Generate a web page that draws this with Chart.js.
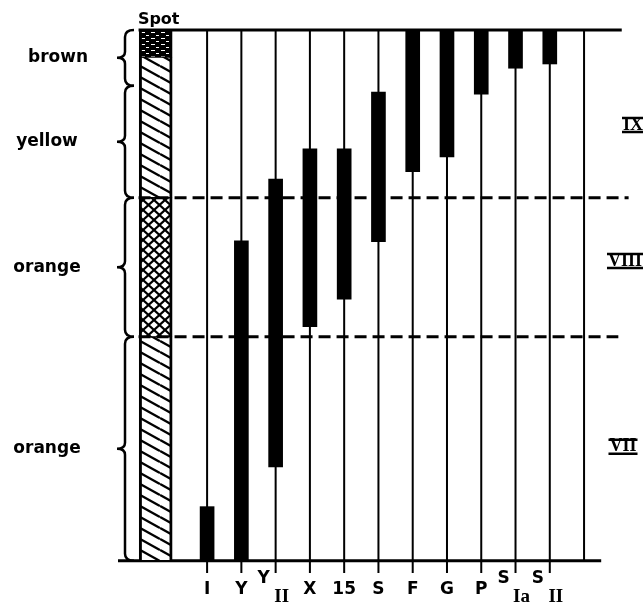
<!DOCTYPE html>
<html>
<head>
<meta charset="utf-8">
<script src="https://cdn.jsdelivr.net/npm/chart.js@4"></script>
<style>
  body { margin: 0; background: #fff; }
  #wrap { position: relative; width: 643px; height: 605px; }
</style>
</head>
<body>
<div id="wrap"><canvas id="chart"></canvas></div>
<script>
// categories along the bottom (main letter + subscript)
const labelMain = ['I', 'Y', 'Y', 'X', '15', 'S', 'F', 'G', 'P', 'S', 'S'];
const labelSub  = ['', '', 'II', '', '', '', '', '', '', 'Ia', 'II'];

// bar ranges, 0 = bottom of spot, 100 = top
const rangeLow  = [0, 0, 17.7, 44.1, 49.3, 60.1, 73.3, 76.1, 87.9, 92.8, 93.6];
const rangeHigh = [10.2, 60.3, 71.9, 77.6, 77.6, 88.3, 100, 100, 100, 100, 100];

// spot column zones (top to bottom)
const spotLow  = [94.9, 68.4, 42.2, 0];
const spotHigh = [100, 94.9, 68.4, 42.2];
const spotFill = ['brown', 'diag', 'cross', 'diag'];

// colour names on the left with their braces
const colourNames = ['brown', 'yellow', 'orange', 'orange'];
const braceLow  = [89.5, 68.4, 42.2, 0];
const braceHigh = [100, 89.5, 68.4, 42.2];

// dashed zone borders and zone numbers on the right
const zoneLines = [68.4, 42.2];
const zoneNames = ['IX', 'VIII', 'VII'];
const zoneLevel = [82.1, 56.5, 21.5];

const canvas = document.getElementById('chart');
const ctx = canvas.getContext('2d');

function makePattern(w, h, draw) {
  const c = document.createElement('canvas');
  c.width = w; c.height = h;
  const g = c.getContext('2d');
  g.fillStyle = '#fff';
  g.fillRect(0, 0, w, h);
  draw(g, w, h);
  return ctx.createPattern(c, 'repeat');
}

const patterns = {
  brown: makePattern(10, 6, (g, w, h) => {
    g.fillStyle = '#000';
    g.fillRect(0, 0, w, h);
    g.fillStyle = '#fff';
    g.fillRect(1, 2, 4, 1);
    g.fillRect(6, 5, 3, 1);
  }),
  diag: makePattern(20, 11, (g, w, h) => {
    g.strokeStyle = '#000';
    g.lineWidth = 2.4;
    for (let k = -1; k <= 1; k++) {
      g.beginPath();
      g.moveTo(0, k * h);
      g.lineTo(w, (k + 1) * h);
      g.stroke();
    }
  }),
  cross: makePattern(11, 10, (g, w, h) => {
    g.strokeStyle = '#000';
    g.lineWidth = 2.2;
    for (let k = -1; k <= 1; k++) {
      g.beginPath();
      g.moveTo(0, k * h);
      g.lineTo(w, (k + 1) * h);
      g.moveTo(0, (k + 1) * h);
      g.lineTo(w, k * h);
      g.stroke();
    }
  })
};

// x positions: spot column sits between -1 and 0, categories at 1..11
const spotX = -0.5;
const catX = labelMain.map((_, i) => i + 1);
const lastLine = labelMain.length + 1;
const tickDepth = -2.3;
const frameLeft = -1, frameRight = 13.1;
const baseLeft = -1.6, baseRight = 12.5;
const dashRight = [13.3, 13.0];

// vertical lines, split by nulls
const vLines = [];
catX.forEach(x => { vLines.push({x: x, y: tickDepth}, {x: x, y: 100}, {x: x, y: null}); });
vLines.push({x: lastLine, y: 0}, {x: lastLine, y: 100});

const dashData = [];
zoneLines.forEach((v, i) => { dashData.push({x: frameLeft, y: v}, {x: dashRight[i], y: v}, {x: dashRight[i], y: null}); });

const textPlugin = {
  id: 'figureText',
  afterDraw(chart) {
    const c = chart.ctx, xs = chart.scales.x, ys = chart.scales.y;
    c.save();
    c.fillStyle = '#000';
    c.strokeStyle = '#000';

    // braces + colour names
    c.lineWidth = 2.5;
    const bx = 125, tip = 117, hook = 134;
    colourNames.forEach((name, i) => {
      const yt = ys.getPixelForValue(braceHigh[i]);
      const yb = ys.getPixelForValue(braceLow[i]);
      const ym = (yt + yb) / 2;
      c.beginPath();
      c.moveTo(hook, yt);
      c.quadraticCurveTo(bx, yt, bx, yt + 7);
      c.lineTo(bx, ym - 6);
      c.quadraticCurveTo(bx, ym, tip, ym);
      c.quadraticCurveTo(bx, ym, bx, ym + 6);
      c.lineTo(bx, yb - 7);
      c.quadraticCurveTo(bx, yb, hook, yb);
      c.stroke();
      c.font = 'bold 17px "DejaVu Sans"';
      c.textAlign = 'center';
      c.textBaseline = 'middle';
      c.fillText(name, i === 0 ? 58 : 47, ym);
    });

    // Spot heading
    c.font = 'bold 16px "DejaVu Sans"';
    c.textAlign = 'center';
    c.textBaseline = 'alphabetic';
    c.fillText('Spot', xs.getPixelForValue(spotX) + 3, 24);

    // category labels
    labelMain.forEach((m, i) => {
      const px = xs.getPixelForValue(catX[i]);
      c.font = 'bold 17px "DejaVu Sans"';
      if (labelSub[i]) {
        c.fillText(m, px - 12, 583);
        c.font = 'bold 19px "Liberation Serif"';
        c.fillText(labelSub[i], px + 6, 602);
      } else {
        c.fillText(m, px, 594);
      }
    });

    // zone numerals on the right
    c.font = 'bold 18px "Liberation Serif"';
    c.textBaseline = 'middle';
    const zx = [633, 625, 623];
    zoneNames.forEach((z, i) => {
      const py = ys.getPixelForValue(zoneLevel[i]);
      c.fillText(z, zx[i], py);
      const w = c.measureText(z).width;
      c.lineWidth = 2.5;
      c.beginPath();
      c.moveTo(zx[i] - w / 2 - 1, py - 7);
      c.lineTo(zx[i] + w / 2 + 1, py - 7);
      c.moveTo(zx[i] - w / 2 - 1, py + 7);
      c.lineTo(zx[i] + w / 2 + 1, py + 7);
      c.stroke();
    });
    c.restore();
  }
};

const lineStyle = {type: 'line', pointRadius: 0, borderColor: '#000', spanGaps: false, clip: false, tension: 0};

new Chart(canvas, {
  type: 'bar',
  data: {
    datasets: [
      Object.assign({}, lineStyle, {label: 'zones', data: dashData, borderWidth: 3, borderDash: [12, 6]}),
      {
        label: 'ranges',
        data: catX.map((x, i) => ({x: x, y: [rangeLow[i], rangeHigh[i]]})),
        backgroundColor: '#000',
        borderWidth: 0,
        barThickness: 14,
        grouped: false
      },
      {
        label: 'spot',
        data: spotLow.map((lo, i) => ({x: spotX, y: [lo, spotHigh[i]]})),
        backgroundColor: spotFill.map(f => patterns[f]),
        borderColor: '#000',
        borderWidth: {left: 3, right: 3, top: 1, bottom: 1},
        borderSkipped: false,
        barThickness: 33,
        grouped: false
      },
      Object.assign({}, lineStyle, {label: 'grid', data: vLines, borderWidth: 2}),
      Object.assign({}, lineStyle, {label: 'top', data: [{x: frameLeft, y: 100}, {x: frameRight, y: 100}], borderWidth: 3}),
      Object.assign({}, lineStyle, {label: 'base', data: [{x: baseLeft, y: 0}, {x: baseRight, y: 0}], borderWidth: 3})
    ]
  },
  options: {
    responsive: true,
    maintainAspectRatio: false,
    animation: false,
    layout: {padding: {left: 118, right: 0, top: 30, bottom: 32}},
    plugins: {legend: {display: false}, tooltip: {enabled: false}},
    scales: {
      x: {type: 'linear', min: baseLeft, max: 13.72, offset: false, display: false, grid: {display: false}},
      y: {type: 'linear', min: tickDepth, max: 100, display: false, grid: {display: false}}
    }
  },
  plugins: [textPlugin]
});
</script>
</body>
</html>
